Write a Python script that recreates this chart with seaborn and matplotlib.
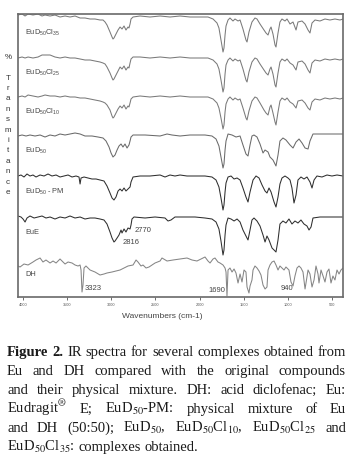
import matplotlib
matplotlib.use("Agg")
import matplotlib.pyplot as plt
import numpy as np
import pandas as pd
import seaborn as sns

# IR spectra (wavenumber in cm-1, transmittance in %)
samples = ["EuD50Cl35", "EuD50Cl25", "EuD50Cl10", "EuD50", "EuD50 - PM", "EuE", "DH"]
labels = ["EuD${}_{50}$Cl${}_{35}$", "EuD${}_{50}$Cl${}_{25}$", "EuD${}_{50}$Cl${}_{10}$",
          "EuD${}_{50}$", "EuD${}_{50}$ - PM", "EuE", "DH"]

# the three complexes share the same wavenumber points
wn_cl = [4057, 4011, 3977, 3943, 3887, 3830, 3785, 3751, 3694, 3638,
         3581, 3524, 3468, 3411, 3354, 3298, 3241, 3185, 3128, 3094,
         3071, 3049, 3015, 2992, 2981, 2970, 2947, 2924, 2901, 2879,
         2856, 2834, 2811, 2800, 2788, 2777, 2754, 2675, 2562, 2448,
         2335, 2222, 2109, 1996, 1905, 1848, 1803, 1781, 1758, 1735,
         1724, 1712, 1701, 1678, 1656, 1622, 1599, 1565, 1542, 1509,
         1475, 1463, 1441, 1407, 1373, 1350, 1316, 1271, 1248, 1225,
         1203, 1191, 1169, 1146, 1135, 1112, 1090, 1067, 1033, 1010,
         976, 942, 908, 886, 840, 806, 772, 750, 727, 693,
         637, 580, 524, 467, 410, 376]
t_cl35 = [105, 107.5, 102.5, 107.5, 105, 107.5, 102.5, 105, 102.5, 105,
          100, 102.5, 100, 102.5, 97.5, 97.5, 95, 95, 92.5, 92.5,
          87.5, 80, 62.5, 50, 45, 47.5, 57.5, 67.5, 75, 70,
          77.5, 67.5, 75, 72.5, 82.5, 95, 100, 102.5, 100, 102.5,
          100, 102.5, 100, 100, 100, 95, 85, 72.5, 42.5, 12.5,
          22.5, 55, 77.5, 92.5, 97.5, 90, 95, 90, 92.5, 70,
          42.5, 37.5, 62.5, 87.5, 97.5, 95, 82.5, 67.5, 60, 55,
          70, 75, 57.5, 30, 25, 60, 87.5, 95, 90, 95,
          82.5, 87.5, 67.5, 87.5, 90, 82.5, 67.5, 60, 85, 92.5,
          90, 95, 92.5, 95, 92.5, 95]
t_cl25 = [97.5, 100, 97.5, 100, 97.5, 100, 105, 105, 105, 100,
          97.5, 100, 97.5, 97.5, 95, 92.5, 92.5, 90, 87.5, 85,
          82.5, 75, 60, 47.5, 42.5, 45, 55, 65, 75, 70,
          77.5, 67.5, 75, 72.5, 85, 95, 100, 100, 97.5, 100,
          97.5, 100, 97.5, 97.5, 97.5, 92.5, 82.5, 70, 42.5, 12.5,
          22.5, 57.5, 80, 92.5, 97.5, 90, 95, 90, 92.5, 70,
          42.5, 37.5, 62.5, 87.5, 97.5, 95, 82.5, 67.5, 60, 55,
          70, 75, 57.5, 30, 25, 60, 87.5, 95, 90, 95,
          85, 80, 67.5, 87.5, 90, 82.5, 67.5, 60, 85, 92.5,
          90, 95, 92.5, 95, 92.5, 95]
t_cl10 = [97.5, 100, 97.5, 102.5, 100, 97.5, 100, 102.5, 100, 100,
          97.5, 100, 97.5, 97.5, 95, 95, 92.5, 90, 87.5, 85,
          82.5, 77.5, 65, 50, 45, 47.5, 57.5, 67.5, 75, 70,
          77.5, 67.5, 75, 72.5, 82.5, 92.5, 97.5, 100, 97.5, 100,
          97.5, 100, 97.5, 97.5, 97.5, 92.5, 82.5, 70, 45, 17.5,
          27.5, 60, 80, 92.5, 97.5, 90, 95, 90, 92.5, 70,
          45, 40, 62.5, 87.5, 97.5, 95, 82.5, 65, 57.5, 52.5,
          72.5, 77.5, 57.5, 35, 27.5, 60, 87.5, 95, 90, 95,
          85, 80, 70, 87.5, 90, 82.5, 70, 65, 85, 92.5,
          90, 95, 92.5, 95, 92.5, 95]

wn_eud = [4057, 4011, 3966, 3921, 3864, 3807, 3751, 3694, 3638, 3581,
          3524, 3468, 3411, 3354, 3298, 3219, 3151, 3094, 3060, 3026,
          3003, 2981, 2958, 2935, 2913, 2890, 2868, 2845, 2822, 2800,
          2788, 2777, 2754, 2618, 2448, 2369, 2313, 2222, 2109, 1939,
          1860, 1814, 1781, 1758, 1735, 1724, 1712, 1701, 1678, 1633,
          1588, 1542, 1509, 1475, 1452, 1429, 1407, 1384, 1350, 1316,
          1282, 1259, 1225, 1203, 1169, 1135, 1112, 1090, 1056, 1022,
          976, 942, 908, 874, 840, 806, 772, 750, 716, 637,
          524, 376]
t_eud = [97.5, 100, 97.5, 100, 97.5, 100, 95, 100, 97.5, 102.5,
         100, 102.5, 105, 102.5, 97.5, 97.5, 95, 92.5, 85, 70,
         55, 45, 50, 62.5, 72.5, 77.5, 70, 77.5, 67.5, 75,
         85, 95, 100, 100, 97.5, 102.5, 100, 97.5, 100, 100,
         97.5, 90, 72.5, 45, 17.5, 27.5, 62.5, 85, 102.5, 100,
         95, 97.5, 75, 52.5, 47.5, 75, 97.5, 100, 95, 77.5,
         55, 62.5, 57.5, 45, 37.5, 22.5, 50, 85, 92.5, 87.5,
         75, 67.5, 82.5, 90, 80, 67.5, 65, 85, 102.5, 102.5,
         102.5, 102.5]

wn_pm = [4057, 4023, 3989, 3955, 3921, 3887, 3853, 3807, 3762, 3717,
         3672, 3626, 3581, 3536, 3490, 3445, 3400, 3366, 3354, 3343,
         3309, 3264, 3219, 3173, 3128, 3083, 3049, 3015, 2992, 2970,
         2947, 2924, 2901, 2879, 2856, 2834, 2811, 2788, 2777, 2754,
         2675, 2562, 2448, 2392, 2335, 2279, 2222, 2143, 2052, 1939,
         1860, 1814, 1781, 1758, 1735, 1724, 1712, 1701, 1678, 1644,
         1610, 1576, 1542, 1509, 1475, 1452, 1429, 1395, 1361, 1327,
         1293, 1259, 1237, 1214, 1191, 1157, 1135, 1112, 1090, 1067,
         1033, 999, 976, 954, 931, 908, 886, 852, 818, 784,
         750, 727, 704, 671, 614, 557, 501, 444, 376]
t_pm = [100, 102.5, 97.5, 105, 100, 102.5, 97.5, 102.5, 100, 105,
        100, 102.5, 97.5, 100, 102.5, 97.5, 100, 97.5, 80, 95,
        97.5, 95, 92.5, 92.5, 90, 87.5, 75, 57.5, 45, 40,
        47.5, 62.5, 67.5, 62.5, 70, 62.5, 67.5, 72.5, 85, 97.5,
        100, 100, 102.5, 97.5, 102.5, 100, 102.5, 100, 100, 100,
        97.5, 90, 72.5, 45, 15, 27.5, 60, 82.5, 97.5, 100,
        92.5, 95, 90, 70, 47.5, 35, 60, 90, 100, 95,
        77.5, 62.5, 57.5, 70, 60, 35, 22.5, 47.5, 80, 95,
        100, 95, 90, 70, 32.5, 52.5, 90, 97.5, 92.5, 97.5,
        85, 70, 90, 100, 97.5, 102.5, 100, 102.5, 100]

wn_eue = [4057, 4023, 4000, 3977, 3955, 3921, 3875, 3830, 3785, 3740,
          3694, 3638, 3581, 3524, 3468, 3411, 3354, 3298, 3241, 3185,
          3128, 3083, 3049, 3015, 2992, 2970, 2958, 2935, 2913, 2890,
          2879, 2856, 2834, 2811, 2788, 2777, 2766, 2743, 2618, 2505,
          2392, 2358, 2324, 2279, 2165, 2052, 1939, 1860, 1814, 1781,
          1758, 1735, 1724, 1712, 1701, 1678, 1644, 1610, 1576, 1542,
          1509, 1475, 1452, 1429, 1407, 1384, 1350, 1316, 1282, 1259,
          1237, 1214, 1180, 1157, 1135, 1112, 1090, 1056, 1022, 988,
          954, 920, 886, 852, 818, 784, 761, 738, 716, 637,
          524, 376]
t_eue = [102.5, 100, 95, 87.5, 97.5, 102.5, 97.5, 100, 102.5, 97.5,
         100, 95, 100, 97.5, 102.5, 97.5, 100, 95, 97.5, 97.5,
         95, 92.5, 82.5, 62.5, 47.5, 37.5, 40, 47.5, 55, 67.5,
         60, 70, 62.5, 72.5, 70, 80, 95, 100, 97.5, 100,
         97.5, 90, 92.5, 100, 100, 100, 97.5, 95, 87.5, 70,
         40, 5, 17.5, 55, 80, 97.5, 95, 90, 95, 87.5,
         67.5, 52.5, 42.5, 67.5, 92.5, 97.5, 90, 77.5, 55, 37.5,
         52.5, 42.5, 22.5, 17.5, 12.5, 42.5, 82.5, 90, 85, 95,
         82.5, 90, 85, 92.5, 82.5, 77.5, 67.5, 75, 97.5, 100,
         100, 100]

wn_dh = [4057, 4034, 3989, 3943, 3887, 3853, 3807, 3774, 3740, 3694,
         3660, 3626, 3581, 3547, 3524, 3490, 3445, 3411, 3377, 3354,
         3343, 3332, 3321, 3309, 3287, 3264, 3241, 3185, 3128, 3083,
         3049, 2992, 2947, 2901, 2856, 2811, 2754, 2720, 2698, 2664,
         2641, 2607, 2573, 2539, 2505, 2448, 2426, 2369, 2301, 2222,
         2143, 2086, 2030, 1984, 1939, 1905, 1882, 1848, 1826, 1792,
         1769, 1735, 1712, 1701, 1690, 1678, 1656, 1633, 1610, 1588,
         1565, 1542, 1520, 1497, 1475, 1463, 1441, 1429, 1407, 1395,
         1373, 1350, 1327, 1305, 1282, 1259, 1237, 1225, 1203, 1180,
         1157, 1135, 1112, 1090, 1067, 1044, 1022, 988, 965, 942,
         920, 897, 874, 852, 829, 806, 795, 772, 750, 727,
         704, 682, 659, 648, 625, 602, 580, 557, 535, 512,
         490, 467, 444, 421, 399, 376]
t_dh = [80, 77.5, 85, 82.5, 90, 95, 100, 90, 95, 87.5,
        92.5, 87.5, 97.5, 90, 85, 90, 87.5, 82.5, 80, 82.5,
        70, 15, 32.5, 75, 80, 75, 70, 65, 57.5, 60,
        62.5, 65, 67.5, 70, 75, 80, 82.5, 95, 90, 80,
        82.5, 75, 77.5, 82.5, 87.5, 92.5, 100, 92.5, 95, 97.5,
        100, 95, 92.5, 97.5, 102.5, 92.5, 87.5, 97.5, 100, 90,
        87.5, 82.5, 75, 65, 5, 70, 75, 65, 72.5, 62.5,
        37.5, 60, 40, 70, 65, 27.5, 12.5, 30, 45, 70,
        80, 75, 67.5, 57.5, 32.5, 22.5, 27.5, 70, 82.5, 90,
        92.5, 82.5, 70, 80, 75, 70, 77.5, 70, 40, 30,
        55, 75, 80, 75, 65, 22.5, 37.5, 70, 60, 27.5,
        45, 80, 60, 37.5, 70, 55, 40, 65, 72.5, 37.5,
        55, 45, 70, 60, 70, 75]

wavenumbers = [wn_cl, wn_cl, wn_cl, wn_eud, wn_pm, wn_eue, wn_dh]
transmittance = [t_cl35, t_cl25, t_cl10, t_eud, t_pm, t_eue, t_dh]
offsets = [600, 500, 402.5, 305, 202.5, 100, -2.5]   # vertical stacking of spectra
colors = ["#7a7a7a", "#7a7a7a", "#7a7a7a", "#6a6a6a", "#2e2e2e", "#2e2e2e", "#858585"]

peaks = ["3323", "2816", "2770", "1690", "940"]

xticks = [4000, 3500, 3000, 2500, 2000, 1500, 1000, 500]

sns.set_theme(style="white")
plt.rcParams["font.family"] = ["Liberation Sans", "DejaVu Sans"]
plt.rcParams["mathtext.fontset"] = "custom"
plt.rcParams["mathtext.rm"] = "Liberation Sans"
plt.rcParams["mathtext.it"] = "Liberation Sans:italic"
plt.rcParams["mathtext.bf"] = "Liberation Sans:bold"

rows = []
for s, wn, t, off in zip(samples, wavenumbers, transmittance, offsets):
    for w, v in zip(wn, t):
        rows.append((s, w, v + off))
df = pd.DataFrame(rows, columns=["sample", "wavenumber", "stacked"])

W, H = 352, 458
fig = plt.figure(figsize=(W / 100, H / 100), dpi=100)
ax = fig.add_axes([18 / W, 1 - 297 / H, 325 / W, 283 / H])

sns.lineplot(data=df, x="wavenumber", y="stacked", hue="sample",
             palette=dict(zip(samples, colors)), hue_order=samples,
             estimator=None, sort=False, legend=False, linewidth=0.75, ax=ax)

ax.set_xlim(4057, 376)
ax.set_ylim(0, 707.5)
ax.set_xticks(xticks)
ax.set_xticklabels([str(t) for t in xticks])
ax.set_yticks([])
ax.set_xlabel("")
ax.set_ylabel("")
ax.tick_params(axis="x", direction="out", length=2, width=0.6, pad=2.5,
               labelsize=2.8, colors="#555555", bottom=True)
for sp in ax.spines.values():
    sp.set_color("#6a6a6a")
    sp.set_linewidth(1.2)

# sample names
for lab, off in zip(labels, offsets):
    ax.text(3975, off + 60, lab, fontsize=5.3, color="#444444", va="center", ha="left")

# band labels
ax.text(3298, 22.5, peaks[0], fontsize=5.5, color="#444444", va="center", ha="left")
ax.text(2868, 137.5, peaks[1], fontsize=5.5, color="#444444", va="center", ha="left")
ax.text(2732, 165, peaks[2], fontsize=5.5, color="#444444", va="center", ha="left")
ax.text(1712, 17.5, peaks[3], fontsize=5.5, color="#444444", va="center", ha="right")
ax.text(945, 22.5, peaks[4], fontsize=5.5, color="#444444", va="center", ha="right")

fig.text(162 / W, 1 - 316 / H, "Wavenumbers (cm-1)", fontsize=6, color="#444444",
         ha="center", va="center")
fig.text(8 / W, 1 - 125 / H, "%\n\nT\nr\na\nn\ns\nm\ni\nt\na\nn\nc\ne",
         fontsize=5.8, color="#333333", ha="center", va="center", linespacing=1.68)

# caption, justified between two margins
caption = [
    [("Figure", "bold"), ("2.", "bold")] + [(w, "normal") for w in "IR spectra for several complexes obtained from".split()],
    [(w, "normal") for w in "Eu and DH compared with the original compounds".split()],
    [(w, "normal") for w in "and their physical mixture. DH: acid diclofenac; Eu:".split()],
    [(w, "normal") for w in "Eudragit${}^{®}$ E; EuD${}_{50}$-PM: physical mixture of Eu".split()],
    [(w, "normal") for w in "and DH (50:50); EuD${}_{50}$, EuD${}_{50}$Cl${}_{10}$, EuD${}_{50}$Cl${}_{25}$ and".split()],
    [(w, "normal") for w in "EuD${}_{50}$Cl${}_{35}$: complexes obtained.".split()],
]
x0, x1 = 7, 346
renderer = fig.canvas.get_renderer()
line_objs = []
for i, words in enumerate(caption):
    objs = [fig.text(0, 1 - (356 + 19 * i) / H, w, fontsize=10, fontweight=wt,
                     family="Liberation Serif", math_fontfamily="stix",
                     color="#1a1a1a", ha="left", va="baseline") for w, wt in words]
    line_objs.append(objs)

def widths(objs):
    return [o.get_window_extent(renderer=renderer).width for o in objs]

space10 = 0.25 * 10 / 72 * 100
natural = [sum(widths(o)) + space10 * (len(o) - 1) for o in line_objs[:-1]]
fs = min(10.5, 10 * min((x1 - x0) / n for n in natural))
for objs in line_objs:
    for o in objs:
        o.set_fontsize(fs)
space = 0.25 * fs / 72 * 100
for i, objs in enumerate(line_objs):
    ws = widths(objs)
    gap = space if i == len(line_objs) - 1 else (x1 - x0 - sum(ws)) / (len(objs) - 1)
    x = x0
    for o, w in zip(objs, ws):
        o.set_x(x / W)
        x += w + gap

fig.savefig("out.png", dpi=100, facecolor="white")
